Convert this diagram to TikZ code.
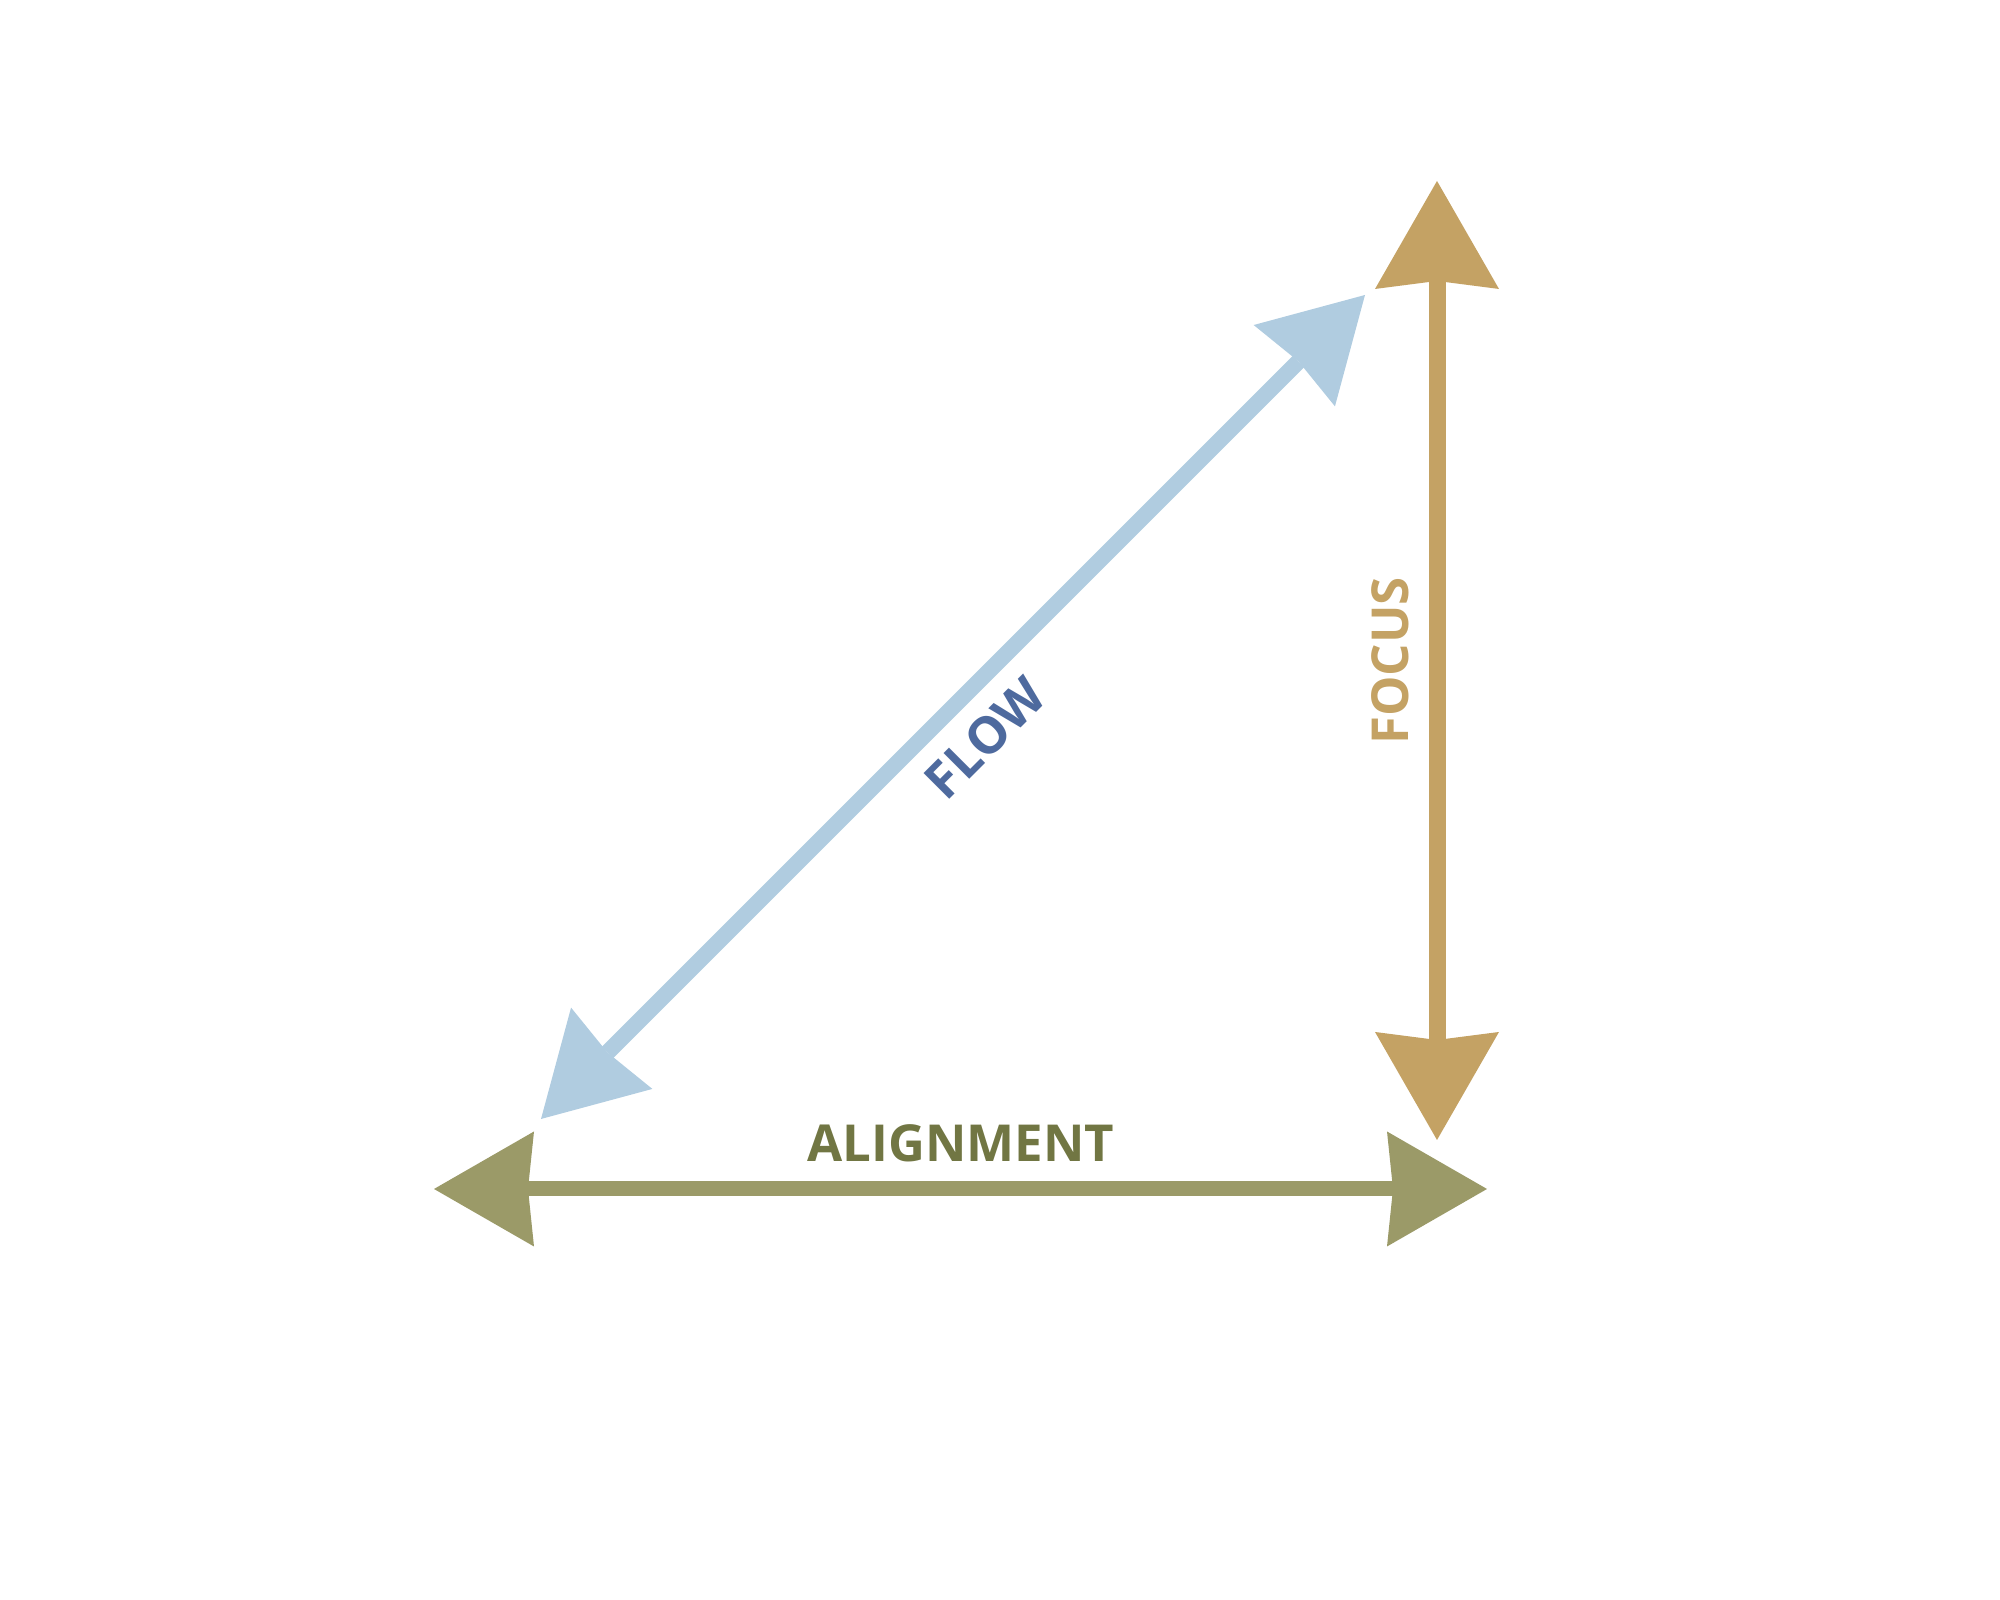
\documentclass[tikz,border=0pt]{standalone}
\usepackage{fontspec}
\setmainfont{Open Sans}
\usepackage{tikz}
\usetikzlibrary{arrows.meta,calc}
\definecolor{algc}{HTML}{9B9A68}
\definecolor{algt}{HTML}{717643}
\definecolor{flwc}{HTML}{B0CCE0}
\definecolor{flwt}{HTML}{4E6A9E}
\definecolor{focc}{HTML}{C4A264}
\tikzset{
  alg/.style={draw=algc,line width=1.5mm,
    {Stealth[length=10mm,width=11.5mm,inset=.6mm,line width=0pt]}-{Stealth[length=10mm,width=11.5mm,inset=.6mm,line width=0pt]}},
  foc/.style={draw=focc,line width=1.7mm,
    {Stealth[length=10.8mm,width=12.4mm,inset=.8mm,line width=0pt]}-{Stealth[length=10.8mm,width=12.4mm,inset=.8mm,line width=0pt]}},
  flw/.style={draw=flwc,line width=1.6mm,
    {Stealth[length=10mm,width=11.5mm,inset=.6mm,line width=0pt]}-{Stealth[length=10mm,width=11.5mm,inset=.6mm,line width=0pt]}},
  lb/.style={font=\fontsize{14.5}{17}\selectfont\bfseries,inner sep=0pt},
}
\begin{document}
\begin{tikzpicture}
\useasboundingbox (0,0) rectangle (20,16);
% end points of the three axes
\coordinate (algL) at (4.34,4.11); \coordinate (algR) at (14.87,4.11);
\coordinate (focB) at (14.37,4.60); \coordinate (focT) at (14.37,14.19);
\coordinate (flwL) at (5.41,4.81); \coordinate (flwR) at (13.65,13.05);
\draw[alg] (algL) -- (algR);
\draw[foc] (focB) -- (focT);
\draw[flw] (flwL) -- (flwR);
% labels
\node[lb,text=algt] (algLab) at (9.61,4.57) {ALIGNMENT};
\node[lb,text=flwt,rotate=45] (flwLab) at (9.85,8.62) {FLOW};
\node[lb,text=focc,rotate=90] (focLab) at (13.90,9.39) {FOCUS};
\end{tikzpicture}
\end{document}
